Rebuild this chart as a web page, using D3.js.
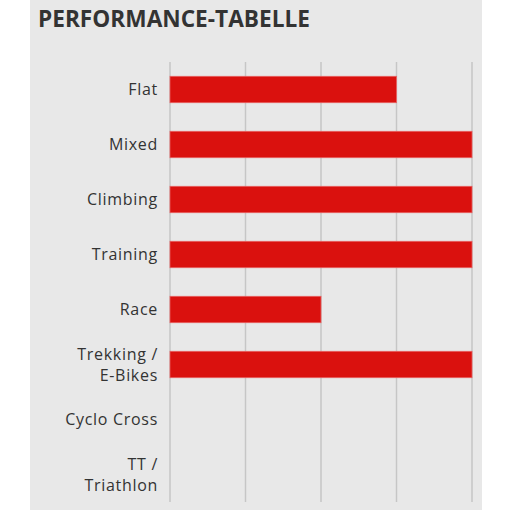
<!DOCTYPE html>
<html><head><meta charset="utf-8">
<script src="https://cdn.jsdelivr.net/npm/d3@7"></script>
<style>html,body{margin:0;padding:0;background:#fff;}</style>
</head><body>
<svg id="c" width="510" height="510"></svg>
<script>
const categories = [["Flat"],["Mixed"],["Climbing"],["Training"],["Race"],["Trekking /","E-Bikes"],["Cyclo Cross"],["TT /","Triathlon"]];
const values = [3,4,4,4,2,4,0,0];
const ticks = [0,1,2,3,4];
const title = "PERFORMANCE-TABELLE";

const svg = d3.select("#c");
svg.append("rect").attr("x",30).attr("y",0).attr("width",452).attr("height",510).attr("fill","#e8e8e8");
svg.append("text").attr("x",38).attr("y",27).text(title)
  .attr("font-family","Open Sans").attr("font-weight","bold").attr("font-size",23)
  .attr("fill","#333").attr("textLength",272).attr("lengthAdjust","spacingAndGlyphs");

const x = d3.scaleLinear().domain([0,4]).range([170,472]);
const y = d3.scaleBand().domain(categories.map((d,i)=>i)).range([62,502]).paddingInner(0.52).paddingOuter(0.26);

svg.append("g").selectAll("line").data(ticks).join("line")
  .attr("x1",d=>x(d)).attr("x2",d=>x(d)).attr("y1",62).attr("y2",502)
  .attr("stroke","#c6c6c6").attr("stroke-width",1.5);

svg.append("g").selectAll("rect").data(values).join("rect")
  .attr("x",x(0)).attr("y",(d,i)=>y(i)).attr("width",d=>x(d)-x(0)).attr("height",y.bandwidth())
  .attr("fill","#da110e").attr("stroke","#e86060").attr("stroke-width",0.8);

const lab = svg.append("g").selectAll("text").data(categories).join("text")
  .attr("text-anchor","end").attr("font-family","Open Sans").attr("font-size",16)
  .attr("letter-spacing","0.7px").attr("fill","#333");
lab.each(function(d,i){
  const cy = y(i)+y.bandwidth()/2;
  const n = d.length;
  d3.select(this).selectAll("tspan").data(d).join("tspan")
    .attr("x",158).attr("y",(t,j)=>cy + (j-(n-1)/2)*21).attr("dy","0.35em").text(t=>t);
});
</script>
</body></html>
